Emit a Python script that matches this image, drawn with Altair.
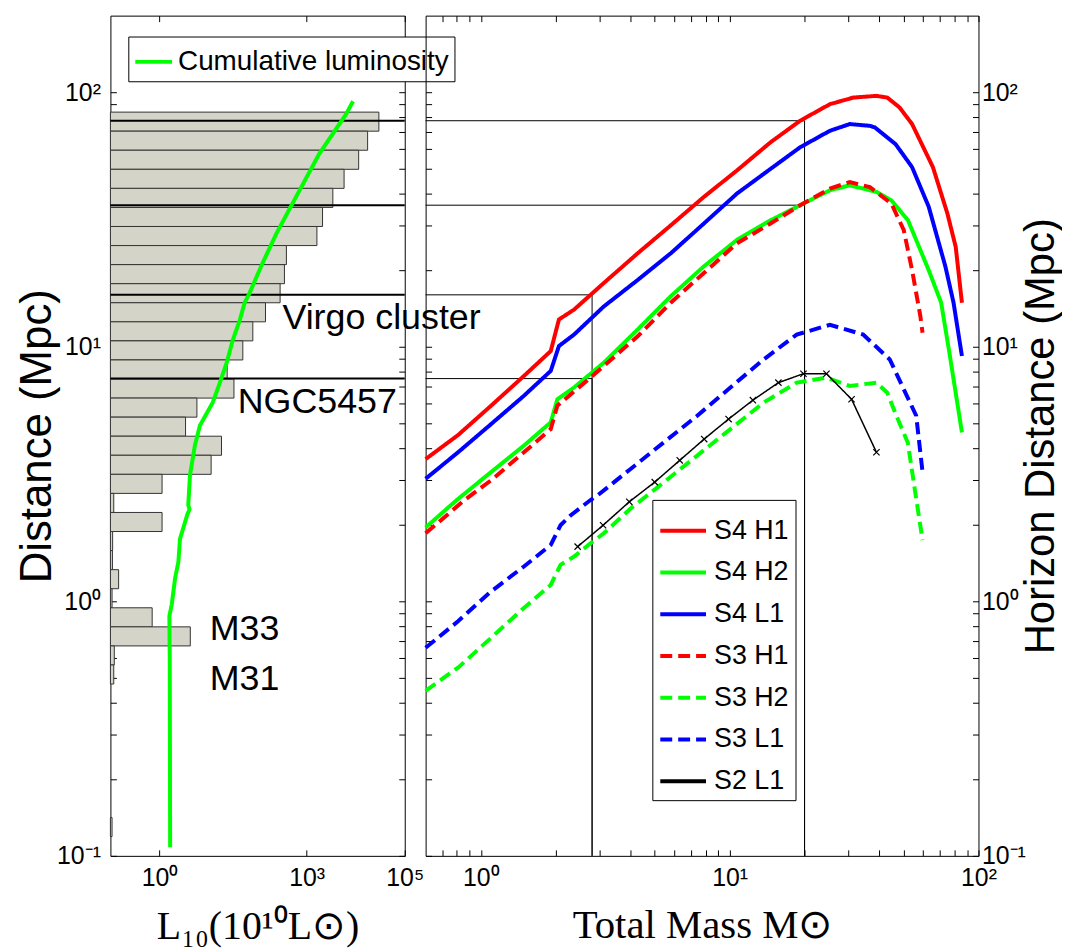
import altair as alt
import pandas as pd
import numpy as np

SANS = "Liberation Sans"
SERIF = "Liberation Serif"

# ---------------- left panel data ----------------
# luminosity histogram, bins uniform in log distance (top bin first)
bin_top_log = 1.922
bin_width_log = 0.0749
bar_values = [29700, 17500, 11500, 5800, 3420, 2110, 1620, 387, 353, 288,
              145, 80, 50, 24, 33, 5.8, 3.4, 18.4, 11.3, 1.13,
              0.117, 1.13, 0.111, 0.11, 0.147, 0.108, 0.71, 4.25, 0.12, 0.117,
              None, None, None, None, None, None, None, 0.108]
bar_base = 0.1

cum_L = [8830, 6370, 1807, 513, 243, 126, 68.9, 54.5, 43.2, 31.1, 23.5, 17.0,
         12.2, 6.67, 5.28, 4.19, 3.86, 4.1, 3.69, 2.62, 2.43, 2.08, 1.78, 1.59,
         1.62, 1.65]
cum_D = [92.2, 82, 57.3, 36.5, 27.9, 21.3, 16.3, 14.9, 12.7, 10.6, 8.66, 7.22,
         6.04, 4.91, 4.10, 3.13, 2.39, 2.3, 2.19, 1.76, 1.43, 1.23, 0.973, 0.874,
         0.6, 0.108]

ref_D = [77.3, 36.0, 16.0, 7.5]
ref_M = [20, 20, 2.8, 2.8]
ref_M0 = 0.6
ref_D0 = 0.1

label_text = ["Virgo cluster", "NGC5457", "M33", "M31"]
label_L = [321, 39.4, 10.6, 10.6]
label_D = [13.0, 6.04, 0.777, 0.496]

# ---------------- right panel data ----------------
series_names = ["S4 H1", "S4 H2", "S4 L1", "S3 H1", "S3 H2", "S3 L1", "S2 L1"]

s4h1_m = [0.6, 0.81, 1.10, 1.49, 1.91, 2.06, 2.37, 3.12, 4.27, 5.80, 7.88, 10.7, 14.6, 19.2, 25.3, 31.4, 38.9, 43.0, 48.2, 54.1, 65.6, 75.0, 81.0, 85.8]
s4h1_d = [3.62, 4.50, 5.87, 7.68, 9.62, 12.8, 14.0, 17.8, 23.3, 30.0, 38.8, 49.3, 63.6, 77.3, 89.8, 95.3, 96.8, 95.3, 87.1, 75.0, 50.8, 33.4, 24.7, 14.9]

s4l1_m = [0.6, 0.81, 1.10, 1.49, 1.91, 2.06, 2.37, 3.12, 4.27, 5.80, 7.88, 10.7, 14.6, 19.2, 25.3, 30.4, 36.6, 38.3, 46.4, 54.1, 63.1, 73.6, 79.4, 85.8]
s4l1_d = [3.03, 3.85, 4.97, 6.42, 8.04, 10.07, 11.17, 14.4, 18.3, 23.3, 30.5, 40.0, 50.0, 60.8, 70.6, 75.0, 73.8, 72.8, 62.6, 50.8, 35.5, 20.7, 14.9, 9.2]

s4h2_m = [0.6, 0.80, 1.10, 1.49, 1.91, 2.03, 2.37, 3.12, 4.27, 5.80, 7.88, 10.7, 14.6, 19.2, 25.3, 30.4, 38.9, 44.7, 52.1, 63.1, 70.8, 76.4, 85.8]
s4h2_d = [1.95, 2.50, 3.22, 4.09, 5.05, 6.22, 6.92, 8.66, 11.7, 15.8, 20.7, 26.3, 31.4, 36.0, 41.2, 43.1, 40.6, 37.6, 31.4, 20.0, 14.9, 9.48, 4.61]

s3h1_m = [0.6, 0.86, 1.10, 1.49, 1.91, 2.03, 2.76, 4.27, 5.80, 7.88, 10.7, 14.6, 19.2, 25.3, 30.4, 36.6, 44.7, 50.1, 54.1, 58.4, 59.6]
s3h1_d = [1.85, 2.50, 2.99, 3.85, 4.75, 5.87, 7.57, 11.0, 14.9, 19.5, 25.5, 30.5, 36.0, 41.8, 44.4, 42.4, 36.5, 28.7, 20.0, 13.2, 11.35]

s3h2_m = [0.6, 0.81, 1.10, 1.49, 1.91, 2.09, 2.37, 2.76, 3.12, 4.01, 5.45, 7.41, 10.07, 13.7, 18.6, 24.5, 30.4, 38.9, 43.0, 46.8, 52.0, 56.2, 59.6]
s3h2_d = [0.445, 0.549, 0.719, 0.942, 1.16, 1.39, 1.50, 1.69, 1.85, 2.32, 2.94, 3.74, 4.75, 6.04, 7.23, 7.57, 7.02, 7.23, 6.6, 5.36, 4.2, 2.53, 1.74]

s3l1_m = [0.6, 0.81, 1.10, 1.49, 1.91, 2.09, 2.30, 2.76, 2.95, 4.01, 5.45, 7.41, 10.07, 13.7, 18.6, 25.3, 34.4, 44.0, 56.2, 59.6]
s3l1_d = [0.657, 0.835, 1.094, 1.37, 1.665, 1.99, 2.18, 2.50, 2.61, 3.32, 4.22, 5.36, 6.92, 8.92, 11.17, 12.2, 11.17, 8.92, 5.36, 3.22]

s2l1_m = [2.45, 3.1, 3.95, 5.0, 6.3, 7.9, 9.9, 12.4, 15.7, 19.8, 24.5, 30.9, 38.9]
s2l1_d = [1.64, 1.99, 2.46, 2.94, 3.58, 4.34, 5.20, 6.17, 7.23, 7.84, 7.84, 6.22, 3.85]

series_colors = ["#ff0000", "#00ff00", "#0000ff", "#ff0000", "#00ff00", "#0000ff", "#000000"]
series_dashes = [[1, 0], [1, 0], [1, 0], [12, 6], [12, 6], [12, 6], [1, 0]]
series_widths = [4, 4, 4, 4, 4, 4, 1.5]

# ---------------- tables ----------------
rows = []
for k, v in enumerate(bar_values):
    if v is None:
        continue
    rows.append({"L": v, "base": bar_base,
                 "d_hi": 10 ** (bin_top_log - bin_width_log * k),
                 "d_lo": 10 ** (bin_top_log - bin_width_log * (k + 1))})
bars_df = pd.DataFrame(rows)
cum_df = pd.DataFrame({"L": cum_L, "D": cum_D, "idx": list(range(len(cum_L))),
                       "name": "Cumulative luminosity"})
refL_df = pd.DataFrame({"d": ref_D})
lab_df = pd.DataFrame({"t": label_text, "L": label_L, "D": label_D})

all_m = [s4h1_m, s4h2_m, s4l1_m, s3h1_m, s3h2_m, s3l1_m, s2l1_m]
all_d = [s4h1_d, s4h2_d, s4l1_d, s3h1_d, s3h2_d, s3l1_d, s2l1_d]
lines_df = pd.concat([pd.DataFrame({"series": n, "M": m, "D": d, "w": w})
                      for n, m, d, w in zip(series_names, all_m, all_d, series_widths)],
                     ignore_index=True)
s2_df = pd.DataFrame({"M": s2l1_m, "D": s2l1_d})
ref_df = pd.DataFrame({"d": ref_D, "m": ref_M, "m0": ref_M0, "d0": ref_D0})

# ---------------- axes helpers ----------------
SUP = {"-": "\u207b", "0": "\u2070", "1": "\u00b9", "2": "\u00b2", "3": "\u00b3",
       "4": "\u2074", "5": "\u2075"}


def label_expr(decades):
    expr = "''"
    for e in reversed(decades):
        s = "".join(SUP[c] for c in str(e))
        expr = f"datum.value == {10.0 ** e!r} ? '10{s}' : ({expr})"
    return expr


y_ticks = [k * 10.0 ** e for e in (-1, 0, 1) for k in range(1, 10)] + [100.0]
xR_ticks = [0.7, 0.8, 0.9] + [k * 10.0 ** e for e in (0, 1) for k in range(1, 10)] + [100.0]
xL_ticks = [1.0, 1000.0, 100000.0]

y_expr = label_expr([-1, 0, 1, 2])
xR_expr = label_expr([0, 1, 2])
xL_expr = label_expr([0, 3, 5])


def make_axis(orient, values, expr=None, title=None, label_pad=10,
              title_font=SANS, title_size=40, **extra):
    kw = dict(orient=orient, values=values, tickSize=6, offset=-6, domain=False,
              grid=False, ticks=True, tickColor="black", tickWidth=1)
    if expr is None:
        kw["labels"] = False
    else:
        kw.update(labels=True, labelExpr=expr, labelFont=SANS, labelFontSize=25,
                  labelColor="black", labelOverlap=False, labelFlush=False,
                  labelPadding=label_pad)
    if title is None:
        kw["title"] = None
    else:
        kw.update(title=title, titleFont=title_font, titleFontSize=title_size,
                  titleFontWeight="normal", titleColor="black")
    kw.update(extra)
    return alt.Axis(**kw)


y_scale = alt.Scale(type="log", domain=[0.1, 200], nice=False)
xL_scale = alt.Scale(type="log", domain=[0.1, 100000], nice=False)
xR_scale = alt.Scale(type="log", domain=[0.6, 100], nice=False)

# ---------------- left panel ----------------
bars = alt.Chart(bars_df).mark_rect(fill="#d4d4c8", stroke="#333333", strokeWidth=1).encode(
    x=alt.X("L:Q", scale=xL_scale,
            axis=make_axis("bottom", xL_ticks, xL_expr, "L\u2081\u2080(10\u00b9\u2070L\u2299)",
                           label_pad=10, title_font=SERIF, title_size=40,
                           titleY=89, titleBaseline="alphabetic")),
    x2="base:Q",
    y=alt.Y("d_lo:Q", scale=y_scale,
            axis=make_axis("left", y_ticks, y_expr, "Distance (Mpc)", label_pad=10,
                           title_size=44, titleX=-79, titleBaseline="middle", titleAngle=270)),
    y2="d_hi:Q",
)

lrules = alt.Chart(refL_df).mark_rule(color="black", strokeWidth=2).encode(
    y=alt.Y("d:Q", scale=y_scale, axis=None)
)

cum = alt.Chart(cum_df).mark_line(strokeWidth=4).encode(
    x=alt.X("L:Q", scale=xL_scale, axis=make_axis("top", xL_ticks)),
    y=alt.Y("D:Q", scale=y_scale, axis=make_axis("right", y_ticks)),
    order="idx:Q",
    color=alt.Color("name:N",
                    scale=alt.Scale(domain=["Cumulative luminosity"], range=["#00ff00"]),
                    legend=alt.Legend(orient="none", legendX=18, legendY=21, title=None,
                                      symbolType="stroke", symbolSize=1369, symbolStrokeWidth=4,
                                      labelFont=SANS, labelFontSize=28, labelColor="black",
                                      labelLimit=500, labelOffset=4, padding=5,
                                      strokeColor="black", fillColor="white", cornerRadius=0)),
)

texts = alt.Chart(lab_df).mark_text(align="left", baseline="middle", font=SANS,
                                    fontSize=36, color="black").encode(
    x=alt.X("L:Q", scale=xL_scale, axis=None),
    y=alt.Y("D:Q", scale=y_scale, axis=None),
    text="t:N",
)

left = alt.layer(bars, lrules, cum, texts).resolve_axis(
    x="independent", y="independent").properties(width=296, height=845)

# ---------------- right panel ----------------
hrules = alt.Chart(ref_df).mark_rule(color="black", strokeWidth=1).encode(
    y=alt.Y("d:Q", scale=y_scale, axis=None),
    x=alt.X("m0:Q", scale=xR_scale, axis=None),
    x2="m:Q",
)
vrules = alt.Chart(ref_df).mark_rule(color="black", strokeWidth=1).encode(
    x=alt.X("m:Q", scale=xR_scale, axis=None),
    y=alt.Y("d0:Q", scale=y_scale, axis=None),
    y2="d:Q",
)

leg = alt.Legend(orient="none", legendX=228, legendY=487, title=None,
                 symbolType="stroke", symbolSize=2116, symbolStrokeWidth=4,
                 labelFont=SANS, labelFontSize=27, labelColor="black", labelOffset=6,
                 labelExpr="datum.label + '\u00a0\u00a0'",
                 labelLimit=300, rowPadding=4, padding=6, strokeColor="black",
                 fillColor="white", cornerRadius=0)

lines = alt.Chart(lines_df).mark_line().encode(
    x=alt.X("M:Q", scale=xR_scale,
            axis=make_axis("bottom", xR_ticks, xR_expr, "Total Mass M\u2299",
                           label_pad=10, title_font=SERIF, title_size=41,
                           titleY=88, titleBaseline="alphabetic")),
    y=alt.Y("D:Q", scale=y_scale,
            axis=make_axis("right", y_ticks, y_expr, "Horizon Distance (Mpc)",
                           label_pad=3, title_size=42,
                           titleX=68, titleAngle=270, titleBaseline="middle")),
    color=alt.Color("series:N", scale=alt.Scale(domain=series_names, range=series_colors), legend=leg),
    strokeDash=alt.StrokeDash("series:N", scale=alt.Scale(domain=series_names, range=series_dashes), legend=leg),
    strokeWidth=alt.StrokeWidth("w:Q", scale=None, legend=None),
)

markers = alt.Chart(s2_df).mark_point(shape="M-1,-1L1,1M-1,1L1,-1", size=40, filled=False,
                                      color="black", strokeWidth=1.2, opacity=1).encode(
    x=alt.X("M:Q", scale=xR_scale, axis=make_axis("top", xR_ticks)),
    y=alt.Y("D:Q", scale=y_scale, axis=make_axis("left", y_ticks)),
)

right = alt.layer(hrules, vrules, lines, markers).resolve_axis(
    x="independent", y="independent").properties(width=556, height=845)

chart = alt.hconcat(left, right, spacing=21, bounds="flush").resolve_scale(
    x="independent", y="independent", color="independent",
    strokeDash="independent"
).configure_view(stroke="black", strokeWidth=1).properties(
    padding={"top": 4, "left": 7, "right": 0, "bottom": 0}
)

chart.save("out.html", embed_options={"renderer": "svg", "actions": False})
